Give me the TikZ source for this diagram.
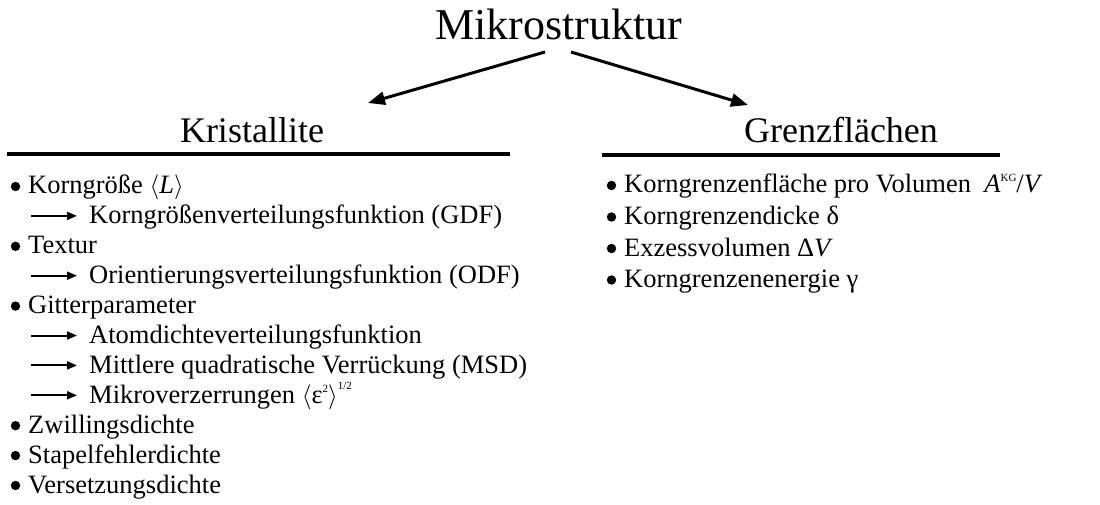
\documentclass[tikz,border=0pt]{standalone}
\usepackage{fontspec}
\setmainfont{Liberation Serif}
\usetikzlibrary{arrows.meta}
\newcommand{\mysup}[2]{\raisebox{#1}{\fontsize{11}{11}\selectfont #2}}
\begin{document}
\begin{tikzpicture}[x=1pt,y=-1pt,
  titletext/.style={font=\fontsize{44}{50}\selectfont, inner sep=0pt, anchor=base},
  headtext/.style={font=\fontsize{36}{40}\selectfont, inner sep=0pt, anchor=base},
  itemtext/.style={font=\fontsize{26.5}{30}\selectfont, inner sep=0pt, anchor=base west},
  bigarrow/.style={line width=3pt, -{Triangle[length=17pt,width=13pt]}},
  smallarrow/.style={line width=2pt, -{Triangle[length=10pt,width=8pt]}},
  headrule/.style={line width=4pt},
  bulletdot/.style={fill=black}]
\useasboundingbox (0,0) rectangle (1100,505);

% title and headings
\node[titletext] (title) at (559,40) {Mikrostruktur};
\node[headtext] (krist) at (252,143) {Kristallite};
\node[headtext] (grenz) at (841,143) {Grenzflächen};

\coordinate (aLs) at (545,52);
\coordinate (aLe) at (368,103);
\coordinate (aRs) at (571,52);
\coordinate (aRe) at (748,105);
\draw[bigarrow] (aLs) -- (aLe);
\draw[bigarrow] (aRs) -- (aRe);

\coordinate (rLs) at (7,154);
\coordinate (rLe) at (510,154);
\coordinate (rRs) at (602,155);
\coordinate (rRe) at (1000,155);
\draw[headrule] (rLs) -- (rLe);
\draw[headrule] (rRs) -- (rRe);

% left list
\node[itemtext] (l0) at (28,194) {Korngröße \(\langle\)\textit{L}\(\rangle\)};
\node[itemtext] (l1) at (89,223.9) {Korngrößenverteilungsfunktion (GDF)};
\node[itemtext] (l2) at (28,253.8) {Textur};
\node[itemtext] (l3) at (89,283.7) {Orientierungsverteilungsfunktion (ODF)};
\node[itemtext] (l4) at (28,313.6) {Gitterparameter};
\node[itemtext] (l5) at (89,343.5) {Atomdichteverteilungsfunktion};
\node[itemtext] (l6) at (89,373.4) {Mittlere quadratische Verrückung (MSD)};
\node[itemtext] (l7) at (89,403.3) {Mikroverzerrungen \(\langle\)ε\mysup{0.42em}{2}\(\rangle\)\mysup{0.52em}{1/2}};
\node[itemtext] (l8) at (28,433.2) {Zwillingsdichte};
\node[itemtext] (l9) at (28,463.1) {Stapelfehlerdichte};
\node[itemtext] (l10) at (28,493) {Versetzungsdichte};

\foreach \y in {194,253.8,313.6,433.2,463.1,493}{
  \fill[bulletdot] (15.5,\y-7.5) circle (4.7pt);
}

\coordinate (s1) at (31,215.9);  \coordinate (e1) at (77,215.9);
\coordinate (s3) at (31,275.7);  \coordinate (e3) at (77,275.7);
\coordinate (s5) at (31,335.5);  \coordinate (e5) at (77,335.5);
\coordinate (s6) at (31,365.4);  \coordinate (e6) at (77,365.4);
\coordinate (s7) at (31,395.3);  \coordinate (e7) at (77,395.3);
\foreach \n in {1,3,5,6,7}{
  \draw[smallarrow] (s\n) -- (e\n);
}

% right list
\node[itemtext] (r0) at (624,193) {Korngrenzenfläche pro Volumen\ \ \textit{A}\mysup{0.45em}{KG}/\textit{V}};
\node[itemtext] (r1) at (624,224.5) {Korngrenzendicke δ};
\node[itemtext] (r2) at (624,256) {Exzessvolumen Δ\textit{V}};
\node[itemtext] (r3) at (624,287.5) {Korngrenzenenergie γ};
\foreach \y in {193,224.5,256,287.5}{
  \fill[bulletdot] (611.5,\y-7.5) circle (4.7pt);
}
\end{tikzpicture}
\end{document}
